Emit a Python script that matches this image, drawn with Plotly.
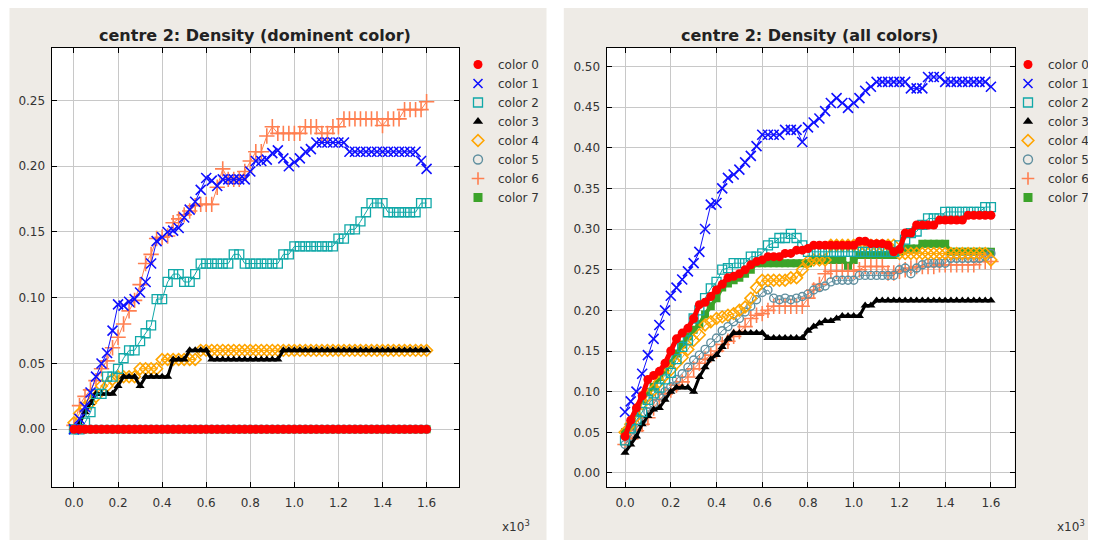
import plotly.graph_objects as go

# ---------------- data ----------------
steps = [0, 25, 50, 75, 100, 125, 150, 175, 200, 225, 250, 275, 300, 325, 350, 375,
         400, 425, 450, 475, 500, 525, 550, 575, 600, 625, 650, 675, 700, 725, 750, 775,
         800, 825, 850, 875, 900, 925, 950, 975, 1000, 1025, 1050, 1075, 1100, 1125, 1150,
         1175, 1200, 1225, 1250, 1275, 1300, 1325, 1350, 1375, 1400, 1425, 1450, 1475,
         1500, 1525, 1550, 1575, 1600]

x_tick_vals = [0, 200, 400, 600, 800, 1000, 1200, 1400, 1600]
x_tick_text = ["0.0", "0.2", "0.4", "0.6", "0.8", "1.0", "1.2", "1.4", "1.6"]
y_ticks_dom = [0.00, 0.05, 0.10, 0.15, 0.20, 0.25]
y_ticks_all = [0.00, 0.05, 0.10, 0.15, 0.20, 0.25, 0.30, 0.35, 0.40, 0.45, 0.50]
series_names = ["color 0", "color 1", "color 2", "color 3", "color 4", "color 5", "color 6", "color 7"]

# left chart: "dominent color"
dom_c0 = [0.0, 0.0, 0.0, 0.0, 0.0, 0.0, 0.0, 0.0, 0.0, 0.0, 0.0, 0.0, 0.0, 0.0, 0.0, 0.0,
          0.0, 0.0, 0.0, 0.0, 0.0, 0.0, 0.0, 0.0, 0.0, 0.0, 0.0, 0.0, 0.0, 0.0, 0.0, 0.0,
          0.0, 0.0, 0.0, 0.0, 0.0, 0.0, 0.0, 0.0, 0.0, 0.0, 0.0, 0.0, 0.0, 0.0, 0.0, 0.0,
          0.0, 0.0, 0.0, 0.0, 0.0, 0.0, 0.0, 0.0, 0.0, 0.0, 0.0, 0.0, 0.0, 0.0, 0.0, 0.0, 0.0]
dom_c1 = [0.000, 0.008, 0.017, 0.028, 0.040, 0.050, 0.058, 0.075, 0.095, 0.094,
          0.097, 0.099, 0.104, 0.112, 0.126, 0.143, 0.146, 0.150, 0.151, 0.153,
          0.161, 0.167, 0.173, 0.182, 0.191, 0.189, 0.185, 0.190, 0.190, 0.190,
          0.190, 0.190, 0.196, 0.204, 0.204, 0.205, 0.210, 0.212, 0.206, 0.200,
          0.203, 0.206, 0.211, 0.213, 0.218, 0.218, 0.218, 0.218, 0.218, 0.218,
          0.211, 0.211, 0.211, 0.211, 0.211, 0.211, 0.211, 0.211, 0.211, 0.211,
          0.211, 0.211, 0.211, 0.204, 0.198]
dom_c2 = [0.000, 0.000, 0.005, 0.013, 0.027, 0.027, 0.040, 0.040, 0.046, 0.054,
          0.060, 0.060, 0.067, 0.073, 0.079, 0.099, 0.099, 0.112, 0.118, 0.118,
          0.112, 0.112, 0.118, 0.126, 0.126, 0.126, 0.126, 0.126, 0.126, 0.133,
          0.133, 0.126, 0.126, 0.126, 0.126, 0.126, 0.126, 0.126, 0.133, 0.133,
          0.139, 0.139, 0.139, 0.139, 0.139, 0.139, 0.139, 0.139, 0.145, 0.145,
          0.152, 0.152, 0.158, 0.165, 0.172, 0.172, 0.172, 0.165, 0.165, 0.165,
          0.165, 0.165, 0.165, 0.172, 0.172]
dom_c3 = [0.000, 0.004, 0.013, 0.020, 0.027, 0.027, 0.027, 0.027, 0.033, 0.040,
          0.040, 0.040, 0.033, 0.040, 0.040, 0.040, 0.040, 0.040, 0.053, 0.053,
          0.053, 0.060, 0.060, 0.060, 0.060, 0.053, 0.053, 0.053, 0.053, 0.053,
          0.053, 0.053, 0.053, 0.053, 0.053, 0.053, 0.053, 0.053, 0.060, 0.060,
          0.060, 0.060, 0.060, 0.060, 0.060, 0.060, 0.060, 0.060, 0.060, 0.060,
          0.060, 0.060, 0.060, 0.060, 0.060, 0.060, 0.060, 0.060, 0.060, 0.060,
          0.060, 0.060, 0.060, 0.060, 0.060]
dom_c4 = [0.005, 0.012, 0.017, 0.020, 0.025, 0.033, 0.033, 0.038, 0.040, 0.040,
          0.040, 0.040, 0.046, 0.046, 0.046, 0.046, 0.053, 0.053, 0.053, 0.053,
          0.053, 0.053, 0.053, 0.060, 0.060, 0.060, 0.060, 0.060, 0.060, 0.060,
          0.060, 0.060, 0.060, 0.060, 0.060, 0.060, 0.060, 0.060, 0.060, 0.060,
          0.060, 0.060, 0.060, 0.060, 0.060, 0.060, 0.060, 0.060, 0.060, 0.060,
          0.060, 0.060, 0.060, 0.060, 0.060, 0.060, 0.060, 0.060, 0.060, 0.060,
          0.060, 0.060, 0.060, 0.060, 0.060]
dom_c5 = [0.0, 0.0, 0.0, 0.0, 0.0, 0.0, 0.0, 0.0, 0.0, 0.0, 0.0, 0.0, 0.0, 0.0, 0.0, 0.0,
          0.0, 0.0, 0.0, 0.0, 0.0, 0.0, 0.0, 0.0, 0.0, 0.0, 0.0, 0.0, 0.0, 0.0, 0.0, 0.0,
          0.0, 0.0, 0.0, 0.0, 0.0, 0.0, 0.0, 0.0, 0.0, 0.0, 0.0, 0.0, 0.0, 0.0, 0.0, 0.0,
          0.0, 0.0, 0.0, 0.0, 0.0, 0.0, 0.0, 0.0, 0.0, 0.0, 0.0, 0.0, 0.0, 0.0, 0.0, 0.0, 0.0]
dom_c6 = [0.003, 0.018, 0.025, 0.030, 0.037, 0.046, 0.052, 0.062, 0.070, 0.080,
          0.090, 0.098, 0.110, 0.126, 0.133, 0.145, 0.146, 0.147, 0.157, 0.160,
          0.163, 0.166, 0.170, 0.171, 0.171, 0.171, 0.184, 0.198, 0.190, 0.190,
          0.190, 0.196, 0.204, 0.211, 0.211, 0.223, 0.230, 0.225, 0.225, 0.225,
          0.225, 0.225, 0.230, 0.230, 0.230, 0.225, 0.225, 0.230, 0.230, 0.236,
          0.236, 0.236, 0.236, 0.236, 0.236, 0.236, 0.231, 0.236, 0.236, 0.236,
          0.243, 0.243, 0.243, 0.243, 0.249]
dom_c7 = [0.0, 0.0, 0.0, 0.0, 0.0, 0.0, 0.0, 0.0, 0.0, 0.0, 0.0, 0.0, 0.0, 0.0, 0.0, 0.0,
          0.0, 0.0, 0.0, 0.0, 0.0, 0.0, 0.0, 0.0, 0.0, 0.0, 0.0, 0.0, 0.0, 0.0, 0.0, 0.0,
          0.0, 0.0, 0.0, 0.0, 0.0, 0.0, 0.0, 0.0, 0.0, 0.0, 0.0, 0.0, 0.0, 0.0, 0.0, 0.0,
          0.0, 0.0, 0.0, 0.0, 0.0, 0.0, 0.0, 0.0, 0.0, 0.0, 0.0, 0.0, 0.0, 0.0, 0.0, 0.0, 0.0]

# right chart: "all colors"
all_c0 = [0.045, 0.065, 0.080, 0.095, 0.115, 0.120, 0.125, 0.135, 0.150, 0.165,
          0.172, 0.178, 0.190, 0.207, 0.210, 0.217, 0.225, 0.232, 0.240, 0.242,
          0.245, 0.250, 0.256, 0.260, 0.262, 0.266, 0.266, 0.266, 0.270, 0.270,
          0.274, 0.274, 0.276, 0.280, 0.280, 0.280, 0.280, 0.280, 0.280, 0.280,
          0.280, 0.285, 0.285, 0.282, 0.282, 0.282, 0.280, 0.272, 0.275, 0.295,
          0.295, 0.305, 0.305, 0.305, 0.305, 0.311, 0.311, 0.311, 0.311, 0.311,
          0.317, 0.317, 0.317, 0.317, 0.317]
all_c1 = [0.075, 0.088, 0.100, 0.122, 0.145, 0.165, 0.182, 0.200, 0.218, 0.228,
          0.238, 0.248, 0.258, 0.272, 0.300, 0.330, 0.332, 0.350, 0.363, 0.367,
          0.373, 0.382, 0.390, 0.402, 0.416, 0.416, 0.416, 0.416, 0.422, 0.422,
          0.422, 0.407, 0.425, 0.431, 0.436, 0.445, 0.455, 0.461, 0.455, 0.449,
          0.455, 0.461, 0.470, 0.475, 0.481, 0.481, 0.481, 0.481, 0.481, 0.481,
          0.473, 0.473, 0.473, 0.487, 0.487, 0.487, 0.481, 0.481, 0.481, 0.481,
          0.481, 0.481, 0.481, 0.481, 0.475]
all_c2 = [0.040, 0.055, 0.065, 0.075, 0.090, 0.098, 0.105, 0.115, 0.123, 0.140,
          0.155, 0.163, 0.190, 0.200, 0.215, 0.227, 0.235, 0.250, 0.252, 0.258,
          0.258, 0.258, 0.266, 0.266, 0.270, 0.280, 0.283, 0.289, 0.289, 0.294,
          0.289, 0.280, 0.272, 0.272, 0.272, 0.272, 0.272, 0.272, 0.272, 0.272,
          0.272, 0.272, 0.272, 0.272, 0.272, 0.272, 0.272, 0.272, 0.280, 0.287,
          0.295, 0.297, 0.305, 0.313, 0.313, 0.313, 0.321, 0.321, 0.321, 0.321,
          0.321, 0.321, 0.321, 0.327, 0.327]
all_c3 = [0.025, 0.035, 0.045, 0.060, 0.070, 0.078, 0.080, 0.090, 0.100, 0.105,
          0.105, 0.105, 0.100, 0.118, 0.130, 0.140, 0.145, 0.155, 0.165, 0.172,
          0.172, 0.172, 0.172, 0.172, 0.172, 0.166, 0.166, 0.166, 0.166, 0.166,
          0.166, 0.166, 0.175, 0.180, 0.184, 0.187, 0.187, 0.190, 0.193, 0.193,
          0.193, 0.193, 0.206, 0.206, 0.212, 0.212, 0.212, 0.212, 0.212, 0.212,
          0.212, 0.212, 0.212, 0.212, 0.212, 0.212, 0.212, 0.212, 0.212, 0.212,
          0.212, 0.212, 0.212, 0.212, 0.212]
all_c4 = [0.050, 0.060, 0.070, 0.085, 0.095, 0.102, 0.112, 0.120, 0.127, 0.135,
          0.142, 0.152, 0.163, 0.170, 0.182, 0.186, 0.190, 0.192, 0.194, 0.196,
          0.200, 0.204, 0.215, 0.228, 0.237, 0.237, 0.237, 0.237, 0.237, 0.240,
          0.240, 0.250, 0.260, 0.262, 0.262, 0.262, 0.280, 0.280, 0.280, 0.280,
          0.280, 0.280, 0.280, 0.280, 0.280, 0.280, 0.280, 0.280, 0.270, 0.270,
          0.270, 0.270, 0.270, 0.270, 0.270, 0.270, 0.270, 0.270, 0.270, 0.270,
          0.270, 0.270, 0.270, 0.270, 0.262]
all_c5 = [0.035, 0.045, 0.055, 0.065, 0.075, 0.085, 0.095, 0.100, 0.106, 0.115,
          0.122, 0.130, 0.139, 0.145, 0.152, 0.160, 0.166, 0.175, 0.180, 0.186,
          0.190, 0.198, 0.205, 0.213, 0.222, 0.225, 0.215, 0.213, 0.215, 0.213,
          0.215, 0.217, 0.220, 0.225, 0.228, 0.230, 0.235, 0.237, 0.237, 0.237,
          0.237, 0.243, 0.243, 0.243, 0.243, 0.243, 0.243, 0.243, 0.250, 0.252,
          0.245, 0.252, 0.256, 0.258, 0.258, 0.258, 0.258, 0.264, 0.264, 0.264,
          0.264, 0.264, 0.264, 0.266, 0.270]
all_c6 = [0.035, 0.042, 0.052, 0.060, 0.068, 0.080, 0.090, 0.097, 0.102, 0.108,
          0.112, 0.118, 0.128, 0.135, 0.140, 0.145, 0.150, 0.158, 0.162, 0.168,
          0.174, 0.180, 0.190, 0.194, 0.196, 0.200, 0.205, 0.205, 0.205, 0.205,
          0.205, 0.205, 0.215, 0.225, 0.232, 0.245, 0.248, 0.248, 0.248, 0.248,
          0.248, 0.250, 0.254, 0.254, 0.254, 0.254, 0.246, 0.246, 0.248, 0.250,
          0.252, 0.254, 0.254, 0.254, 0.254, 0.256, 0.256, 0.256, 0.256, 0.256,
          0.256, 0.256, 0.260, 0.260, 0.260]
all_c7 = [0.050, 0.057, 0.075, 0.090, 0.100, 0.106, 0.118, 0.127, 0.135, 0.147,
          0.158, 0.168, 0.176, 0.183, 0.195, 0.205, 0.215, 0.228, 0.233, 0.237,
          0.240, 0.245, 0.250, 0.258, 0.258, 0.258, 0.258, 0.258, 0.258, 0.258,
          0.258, 0.258, 0.258, 0.262, 0.262, 0.262, 0.262, 0.262, 0.262, 0.255,
          0.262, 0.268, 0.268, 0.268, 0.268, 0.268, 0.268, 0.268, 0.272, 0.276,
          0.276, 0.276, 0.282, 0.282, 0.282, 0.282, 0.282, 0.272, 0.272, 0.272,
          0.272, 0.272, 0.272, 0.272, 0.272]

dom_series = [dom_c0, dom_c1, dom_c2, dom_c3, dom_c4, dom_c5, dom_c6, dom_c7]
all_series = [all_c0, all_c1, all_c2, all_c3, all_c4, all_c5, all_c6, all_c7]

# ---------------- styles ----------------
# the page body has an 8px margin, so the figure is drawn 8px in from the
# top-left corner; coordinates below are given in window pixels.
OX, OY = 8, 8
W, H = 1096 - OX, 541 - OY
colors = ["#ff0000", "#1010ff", "#10a8a8", "#000000", "#ffa500", "#5f8f9f", "#ff7f50", "#3ca32a"]
symbols = ["circle", "x-thin-open", "square-open", "triangle-up", "diamond-open",
           "circle-open", "cross-thin-open", "square"]
msizes = [9, 10, 9, 8, 9, 8, 11, 8]
mlw = [0, 1.6, 1.3, 0, 1.6, 1.4, 1.6, 0]
lw = [5, 1, 1, 3, 1, 1, 1, 4]
FONT = "DejaVu Sans"


def px_x(v):
    return (v - OX) / W


def px_y(v):
    return 1 - (v - OY) / H


fig = go.Figure()

for panel, (series, xa, ya, lg) in enumerate([(dom_series, "x", "y", "legend"),
                                              (all_series, "x2", "y2", "legend2")]):
    # draw higher colour index first so colour 0 ends on top
    for k in reversed(range(8)):
        fig.add_trace(go.Scatter(
            x=steps, y=series[k], xaxis=xa, yaxis=ya, mode="lines+markers",
            line=dict(color=colors[k], width=lw[k]),
            marker=dict(symbol=symbols[k], size=msizes[k], color=colors[k],
                        line=dict(color=colors[k], width=mlw[k])),
            showlegend=False, hoverinfo="skip"))
    for k in range(8):
        fig.add_trace(go.Scatter(
            x=[None], y=[None], xaxis=xa, yaxis=ya, mode="markers", name=series_names[k],
            marker=dict(symbol=symbols[k], size=9, color=colors[k],
                        line=dict(color=colors[k], width=mlw[k])),
            legend=lg, showlegend=True))

ydom = [px_y(487.3), px_y(47.7)]
common_axis = dict(showline=True, linecolor="black", linewidth=1, mirror="allticks",
                   ticks="inside", ticklen=5, tickcolor="black", tickwidth=1,
                   showgrid=True, gridcolor="#c8c8c8", gridwidth=1, zeroline=False,
                   tickfont=dict(family=FONT, size=12, color="#333333"))

fig.update_layout(
    width=W, height=H,
    margin=dict(l=0, r=0, t=0, b=0),
    paper_bgcolor="white", plot_bgcolor="white",
    xaxis=dict(domain=[px_x(51.5), px_x(459.2)], range=[-102, 1748], anchor="y",
               tickvals=x_tick_vals, ticktext=x_tick_text, ticklabelstandoff=4, **common_axis),
    yaxis=dict(domain=ydom, range=[-0.0441, 0.2901], anchor="x",
               tickvals=y_ticks_dom, tickformat=".2f", ticklabelstandoff=3, **common_axis),
    xaxis2=dict(domain=[px_x(606.5), px_x(1014.5)], range=[-81, 1703], anchor="y2",
                tickvals=x_tick_vals, ticktext=x_tick_text, ticklabelstandoff=4, **common_axis),
    yaxis2=dict(domain=ydom, range=[-0.0176, 0.523], anchor="x2",
                tickvals=y_ticks_all, tickformat=".2f", ticklabelstandoff=3, **common_axis),
    legend=dict(x=px_x(458), y=px_y(50), xanchor="left", yanchor="top",
                bgcolor="rgba(0,0,0,0)", itemwidth=30, tracegroupgap=0,
                font=dict(family=FONT, size=12, color="#333333")),
    legend2=dict(x=px_x(1008), y=px_y(50), xanchor="left", yanchor="top",
                 bgcolor="rgba(0,0,0,0)", itemwidth=30, tracegroupgap=0,
                 font=dict(family=FONT, size=12, color="#333333")),
    shapes=[
        dict(type="rect", xref="paper", yref="paper", x0=px_x(9.5), x1=px_x(546.5),
             y0=px_y(540), y1=1.0, fillcolor="#eeebe6", line=dict(width=0), layer="below"),
        dict(type="rect", xref="paper", yref="paper", x0=px_x(563.8), x1=1.0,
             y0=px_y(540), y1=1.0, fillcolor="#eeebe6", line=dict(width=0), layer="below"),
        dict(type="rect", xref="paper", yref="paper", x0=px_x(51.5), x1=px_x(459.2),
             y0=ydom[0], y1=ydom[1], fillcolor="white", line=dict(width=0), layer="below"),
        dict(type="rect", xref="paper", yref="paper", x0=px_x(606.5), x1=px_x(1014.5),
             y0=ydom[0], y1=ydom[1], fillcolor="white", line=dict(width=0), layer="below"),
    ],
    annotations=[
        dict(text="<b>centre 2: Density (dominent color)</b>", xref="paper", yref="paper",
             x=px_x(254.5), y=px_y(35.5), xanchor="center", yanchor="middle", showarrow=False,
             font=dict(family=FONT, size=16, color="#222222")),
        dict(text="<b>centre 2: Density (all colors)</b>", xref="paper", yref="paper",
             x=px_x(809.3), y=px_y(35.5), xanchor="center", yanchor="middle", showarrow=False,
             font=dict(family=FONT, size=16, color="#222222")),
        dict(text="x10<sup>3</sup>", xref="paper", yref="paper",
             x=px_x(516), y=px_y(526), xanchor="center", yanchor="middle", showarrow=False,
             font=dict(family=FONT, size=12, color="#333333")),
        dict(text="x10<sup>3</sup>", xref="paper", yref="paper",
             x=px_x(1071), y=px_y(526), xanchor="center", yanchor="middle", showarrow=False,
             font=dict(family=FONT, size=12, color="#333333")),
    ],
)

fig.write_html("out.html")
